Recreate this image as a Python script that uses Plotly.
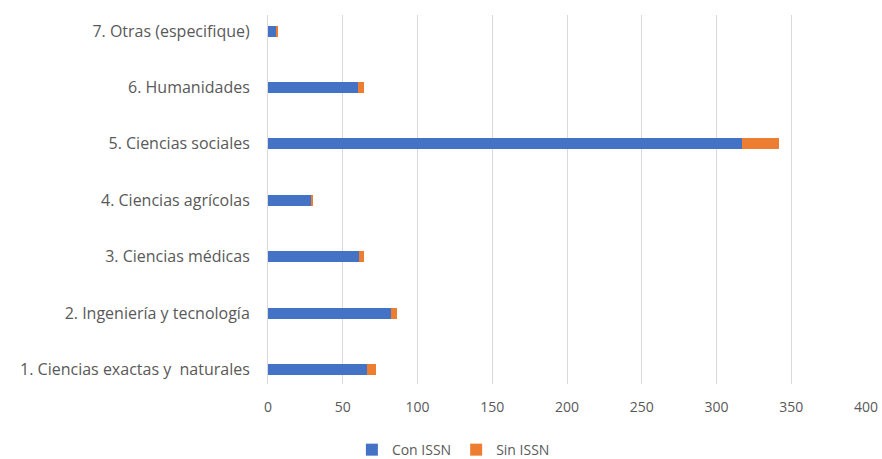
import plotly.graph_objects as go

categories = [
    "1. Ciencias exactas y  naturales",
    "2. Ingeniería y tecnología",
    "3. Ciencias médicas",
    "4. Ciencias agrícolas",
    "5. Ciencias sociales",
    "6. Humanidades",
    "7. Otras (especifique)",
]
con_issn = [66, 82, 61, 29, 317, 60, 6]
sin_issn = [6, 4, 3, 1, 25, 4, 1]
x_ticks = [0, 50, 100, 150, 200, 250, 300, 350, 400]

BLUE = "#4472C4"
ORANGE = "#ED7D31"
TEXT = "#595959"
FONT = "Open Sans"

fig = go.Figure()
fig.add_trace(go.Bar(y=categories, x=con_issn, name="Con ISSN", orientation="h",
                     marker=dict(color=BLUE, line=dict(width=0))))
fig.add_trace(go.Bar(y=categories, x=sin_issn, name="Sin ISSN", orientation="h",
                     marker=dict(color=ORANGE, line=dict(width=0))))

fig.update_layout(
    barmode="stack",
    bargap=0.805,
    width=882, height=459,
    margin=dict(l=268, r=16, t=15, b=75, autoexpand=False),
    paper_bgcolor="white", plot_bgcolor="white",
    font=dict(family=FONT, size=14, color=TEXT),
    showlegend=True,
    legend=dict(orientation="h", x=0.31, xanchor="center", y=-0.179, yanchor="middle",
                font=dict(size=14, color=TEXT), traceorder="normal",
                itemwidth=30, tracegroupgap=0),
    xaxis=dict(range=[0, 400], tickvals=x_ticks, showgrid=True, gridcolor="#D9D9D9",
               gridwidth=1, zeroline=False, showline=False, ticks="", automargin=False,
               ticklabelstandoff=13, tickfont=dict(size=14, color=TEXT)),
    yaxis=dict(type="category", categoryorder="array", categoryarray=categories,
               range=[-0.257, 6.284], showgrid=False, zeroline=False, showline=True,
               linecolor="#D9D9D9", ticks="", ticklabelstandoff=14, automargin=False,
               tickfont=dict(size=16, color=TEXT)),
)

fig.write_html("out.html", config={"displayModeBar": False},
               post_script="document.body.style.margin='0';document.body.style.padding='0';document.body.style.overflow='hidden';")
